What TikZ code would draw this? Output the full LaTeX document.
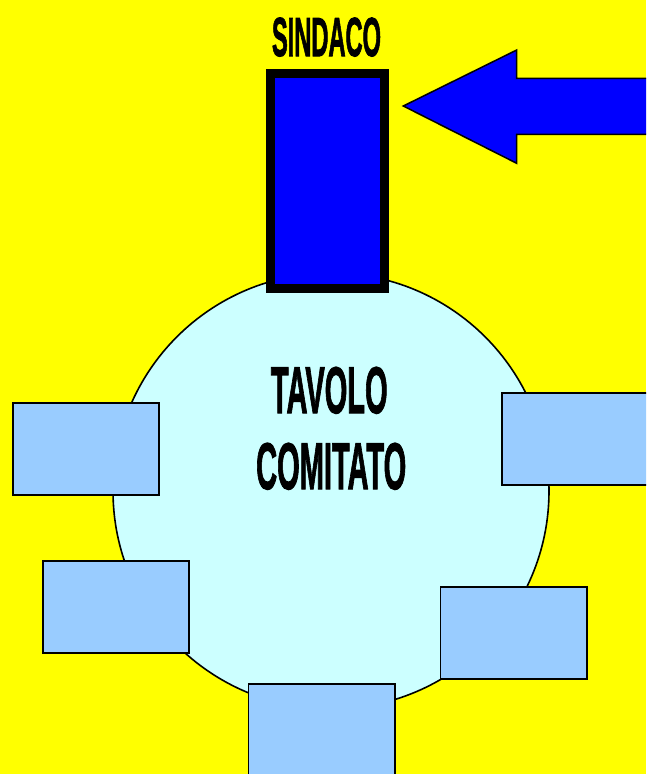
\documentclass[tikz,border=0pt]{standalone}
\usepackage{fontspec}
\setmainfont{Liberation Sans}
\newfontfamily\heavy{Liberation Sans Bold}[FakeBold=2]
\definecolor{bgyellow}{HTML}{FFFF00}
\definecolor{tablecyan}{HTML}{CCFFFF}
\definecolor{seatblue}{HTML}{99CCFF}
\definecolor{mayorblue}{HTML}{0000FF}
\tikzset{
  seat/.style={draw=black, line width=1.8pt, fill=seatblue, minimum width=146.5pt, minimum height=92pt, inner sep=0pt, outer sep=0pt},
  tablebox/.style={circle, draw=black, line width=1.6pt, fill=tablecyan, minimum size=436pt, inner sep=0pt, outer sep=0pt},
  mayorbox/.style={draw=black, line width=9pt, fill=mayorblue, minimum width=114pt, minimum height=215pt, inner sep=0pt, outer sep=0pt},
  bigtext/.style={anchor=base, inner sep=0pt, text=black}
}
\begin{document}
\begin{tikzpicture}[x=1pt, y=-1pt]
\useasboundingbox (0,0) rectangle (646,774);
\fill[bgyellow] (0,0) rectangle (646,774);
\begin{scope}
\clip (0,0) rectangle (646,774);
\node[tablebox] (table) at (331,491) {};
\node[mayorbox] (mayor) at (327.5,181) {};
\node[seat] (s1) at (86,449.3) {};
\node[seat] (s2) at (575,438.7) {};
\node[seat] (s3) at (115.9,607.2) {};
\node[seat] (s4) at (513.7,633.2) {};
\node[seat] (s5) at (321.7,730.2) {};
\coordinate (tip) at (403.3,106);
\draw[fill=mayorblue, draw=black, line width=1.5pt, line join=miter]
  (tip) -- (516.7,50) -- (516.7,78.3) -- (660,78.3) -- (660,134.3) -- (516.7,134.3) -- (516.7,163.3) -- cycle;
\end{scope}
\node[bigtext] (sindaco) at (326.5,56) {\scalebox{0.43}[1]{\fontsize{55}{55}\selectfont\heavy SINDACO}};
\node[bigtext] (tavolo) at (329.3,413) {\scalebox{0.44}[1]{\fontsize{66}{66}\selectfont\heavy TAVOLO}};
\node[bigtext] (comitato) at (331.2,489) {\scalebox{0.44}[1]{\fontsize{66}{66}\selectfont\heavy COMITATO}};
\end{tikzpicture}
\end{document}
